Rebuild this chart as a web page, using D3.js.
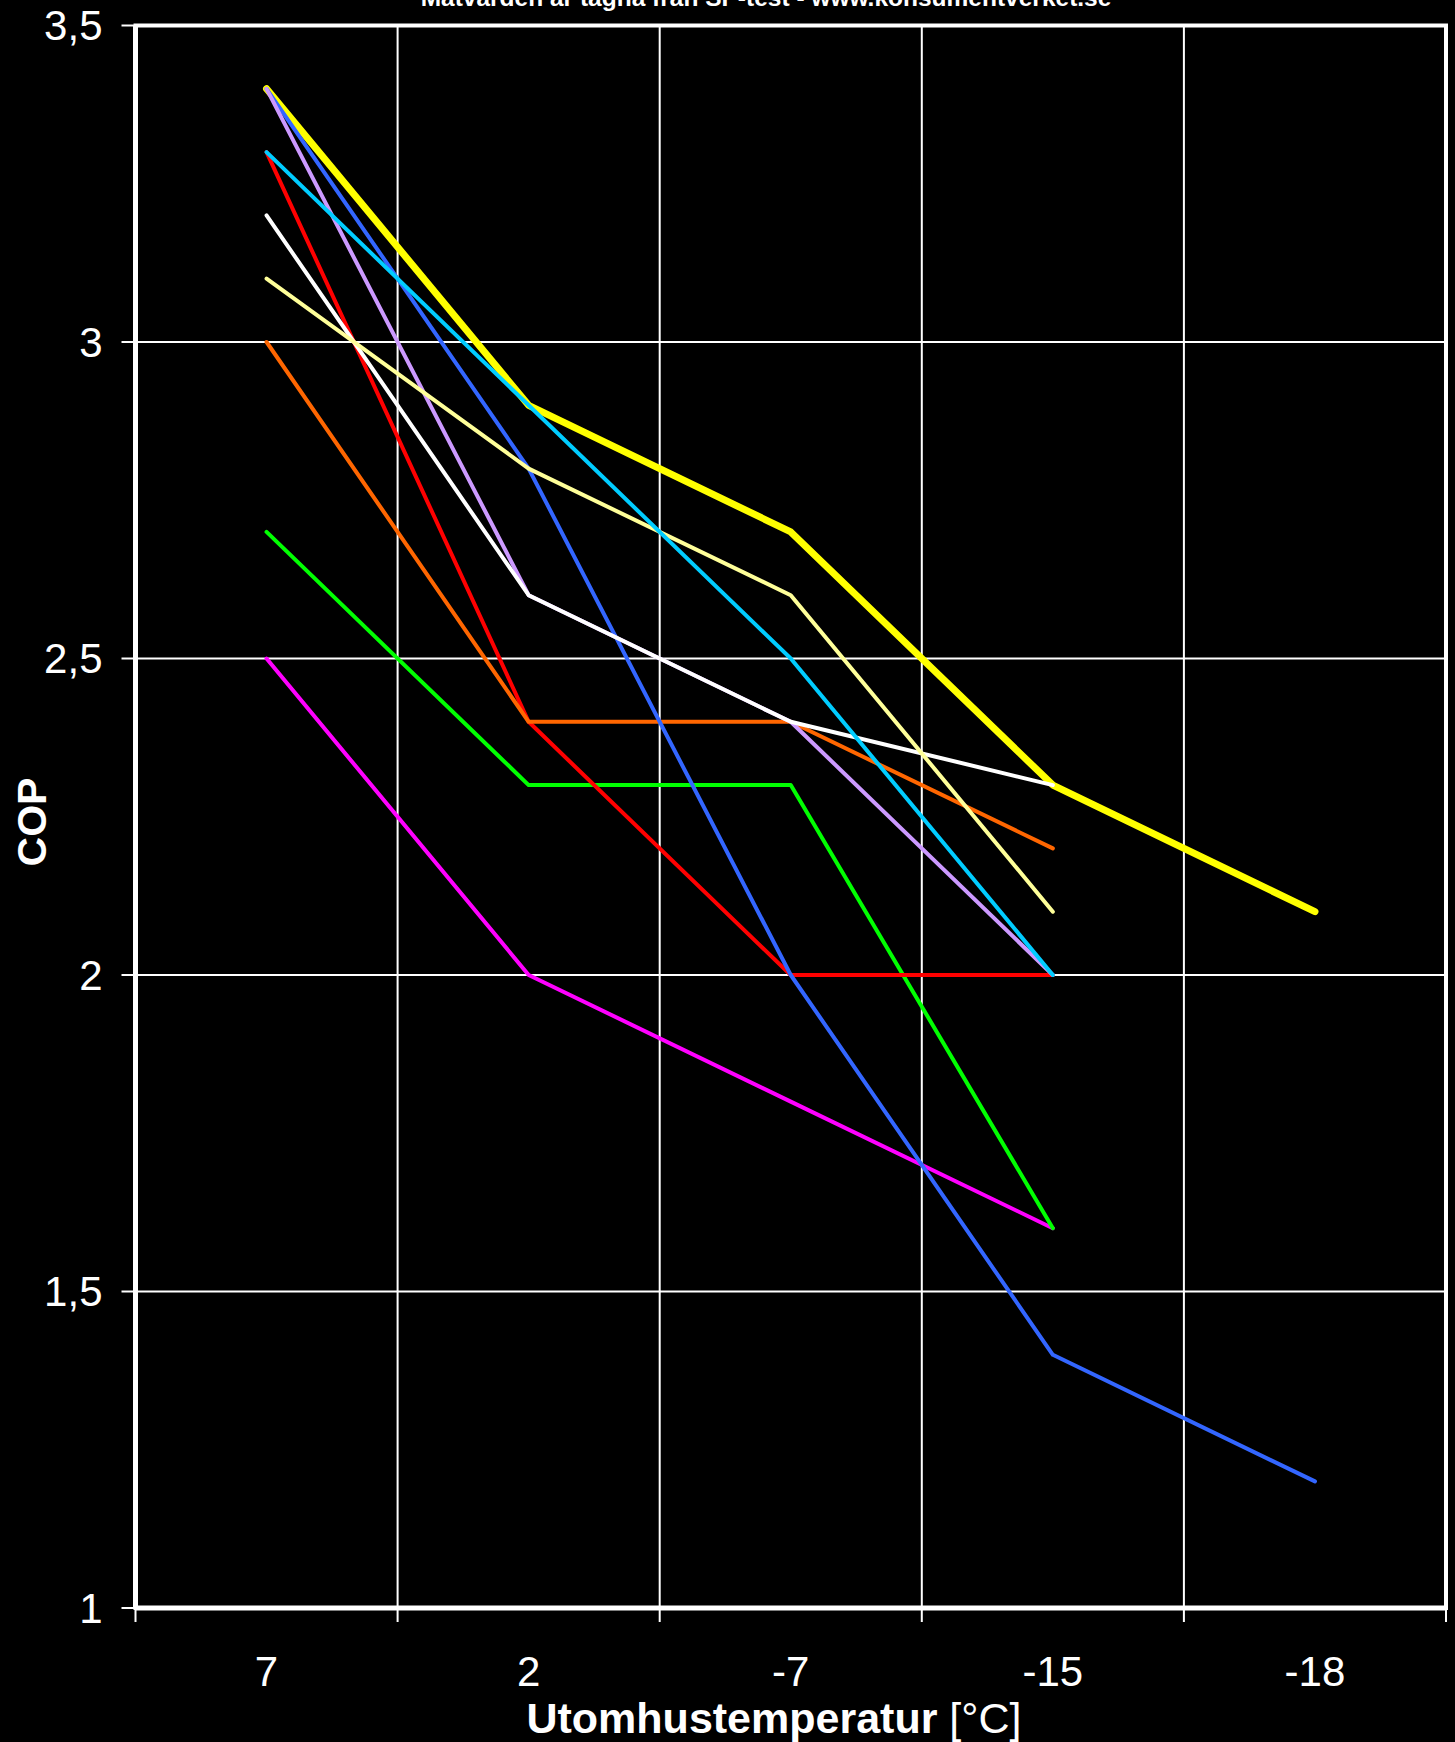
<!DOCTYPE html>
<html>
<head>
<meta charset="utf-8">
<script src="https://cdn.jsdelivr.net/npm/d3@7"></script>
<style>
  html, body { margin: 0; padding: 0; background: #000; }
  svg { display: block; }
  text { font-family: "Liberation Sans", Arial, sans-serif; fill: #fff; }
</style>
</head>
<body>
<div id="chart"></div>
<script>
// outdoor temperature categories
let categories = ["7", "2", "-7", "-15", "-18"];
let yTicks = [1, 1.5, 2, 2.5, 3, 3.5];

// COP per heat pump (null = not measured)
let yellowCop   = [3.4, 2.9, 2.7, 2.3, 2.1];
let magentaCop  = [2.5, 2.0, 1.8, 1.6, null];
let greenCop    = [2.7, 2.3, 2.3, 1.6, null];
let redCop      = [3.3, 2.4, 2.0, 2.0, null];
let orangeCop   = [3.0, 2.4, 2.4, 2.2, null];
let blueCop     = [3.4, 2.8, 2.0, 1.4, 1.2];
let lavenderCop = [3.4, 2.6, 2.4, 2.0, null];
let whiteCop    = [3.2, 2.6, 2.4, 2.3, null];
let paleCop     = [3.1, 2.8, 2.6, 2.1, null];
let cyanCop     = [3.3, 2.9, 2.5, 2.0, null];

let series = [
    {values: yellowCop,   color: "#ffff00", width: 7},
    {values: magentaCop,  color: "#ff00ff", width: 4},
    {values: greenCop,    color: "#00ff00", width: 4},
    {values: redCop,      color: "#ff0000", width: 4},
    {values: orangeCop,   color: "#ff6600", width: 4},
    {values: blueCop,     color: "#3366ff", width: 4},
    {values: lavenderCop, color: "#cc99ff", width: 4},
    {values: whiteCop,    color: "#ffffff", width: 4},
    {values: paleCop,     color: "#ffff99", width: 4},
    {values: cyanCop,     color: "#00ccff", width: 4}
];

let chartWidth = 1455;
let chartHeight = 1742;
let plotLeft = 135.5, plotRight = 1446, plotTop = 25.5, plotBottom = 1608;

let svg = d3.select("#chart").append("svg")
    .attr("width", chartWidth)
    .attr("height", chartHeight);

let x = d3.scaleBand()
    .domain(categories)
    .range([plotLeft, plotRight]);

let y = d3.scaleLinear()
    .domain([1, 3.5])
    .range([plotBottom, plotTop]);

// gridlines
svg.append("g")
    .selectAll("line")
    .data(yTicks)
    .enter().append("line")
    .attr("x1", plotLeft).attr("x2", plotRight)
    .attr("y1", d => y(d)).attr("y2", d => y(d))
    .attr("stroke", "#fff")
    .attr("stroke-width", 2);

let bounds = categories.map(c => x(c)).concat([plotRight]);

svg.append("g")
    .selectAll("line")
    .data(bounds)
    .enter().append("line")
    .attr("x1", d => d).attr("x2", d => d)
    .attr("y1", plotTop).attr("y2", plotBottom + 14)
    .attr("stroke", "#fff")
    .attr("stroke-width", 2);

// plot frame
svg.append("rect")
    .attr("x", plotLeft).attr("y", plotTop)
    .attr("width", plotRight - plotLeft).attr("height", plotBottom - plotTop)
    .attr("fill", "none")
    .attr("stroke", "#fff")
    .attr("stroke-width", 4);

// left + bottom axis lines
svg.append("line")
    .attr("x1", plotLeft).attr("x2", plotLeft)
    .attr("y1", plotTop).attr("y2", plotBottom)
    .attr("stroke", "#fff").attr("stroke-width", 5);
svg.append("line")
    .attr("x1", plotLeft).attr("x2", plotRight)
    .attr("y1", plotBottom).attr("y2", plotBottom)
    .attr("stroke", "#fff").attr("stroke-width", 5);

// y ticks
svg.append("g")
    .selectAll("line")
    .data(yTicks)
    .enter().append("line")
    .attr("x1", plotLeft - 14).attr("x2", plotLeft)
    .attr("y1", d => y(d)).attr("y2", d => y(d))
    .attr("stroke", "#fff").attr("stroke-width", 2);

svg.append("g")
    .selectAll("text")
    .data(yTicks)
    .enter().append("text")
    .attr("x", plotLeft - 33)
    .attr("y", d => y(d))
    .attr("dy", "0.35em")
    .attr("text-anchor", "end")
    .attr("font-size", 42)
    .text(d => String(d).replace(".", ","));

// x labels
svg.append("g")
    .selectAll("text")
    .data(categories)
    .enter().append("text")
    .attr("x", d => x(d) + x.bandwidth() / 2)
    .attr("y", 1686)
    .attr("text-anchor", "middle")
    .attr("font-size", 42)
    .text(d => d);

// lines
let line = d3.line()
    .defined(d => d.v !== null)
    .x(d => x(d.c) + x.bandwidth() / 2)
    .y(d => y(d.v));

svg.append("g")
    .selectAll("path")
    .data(series)
    .enter().append("path")
    .attr("d", s => line(s.values.map((v, i) => ({c: categories[i], v: v}))))
    .attr("fill", "none")
    .attr("stroke", s => s.color)
    .attr("stroke-width", s => s.width)
    .attr("stroke-linecap", "round")
    .attr("stroke-linejoin", "round");

// titles
svg.append("text")
    .attr("x", 766)
    .attr("y", 6)
    .attr("text-anchor", "middle")
    .attr("font-size", 24.5)
    .attr("font-weight", "bold")
    .text("Mätvärden är tagna från SP-test - www.konsumentverket.se");

let xt = svg.append("text")
    .attr("x", 774)
    .attr("y", 1733)
    .attr("text-anchor", "middle")
    .attr("font-size", 43);
xt.append("tspan").attr("font-weight", "bold").text("Utomhustemperatur");
xt.append("tspan").text(" [°C]");

svg.append("text")
    .attr("transform", "translate(46,822) rotate(-90)")
    .attr("text-anchor", "middle")
    .attr("font-size", 41)
    .attr("font-weight", "bold")
    .text("COP");
</script>
</body>
</html>
